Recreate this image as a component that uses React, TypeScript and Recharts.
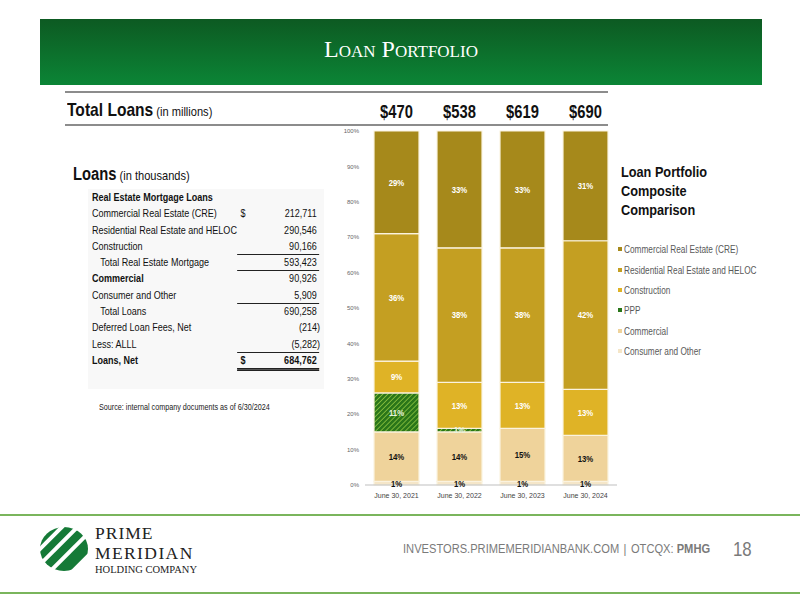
import React from 'react';
import { BarChart, Bar, XAxis, YAxis, LabelList } from 'recharts';

const years = ['June 30, 2021', 'June 30, 2022', 'June 30, 2023', 'June 30, 2024'];
const totals = ['$470', '$538', '$619', '$690'];

// composition, % of total loans (bottom of stack first)
const consumer = [1, 1, 1, 1];
const commercial = [14, 14, 15, 13];
const ppp = [11, 1, 0, 0];
const construction = [9, 13, 13, 13];
const residential = [36, 38, 38, 42];
const cre = [29, 33, 33, 31];

const yTicks = [0, 10, 20, 30, 40, 50, 60, 70, 80, 90, 100];

const series = [
  { key: 'consumer', name: 'Consumer and Other', color: '#f5e6c8', label: '#111' },
  { key: 'commercial', name: 'Commercial', color: '#efd39b', label: '#111' },
  { key: 'ppp', name: 'PPP', color: 'url(#pppHatch)', label: '#e8f3df' },
  { key: 'construction', name: 'Construction', color: '#dfb326', label: '#fff' },
  { key: 'residential', name: 'Residential Real Estate and HELOC', color: '#c49f22', label: '#fff' },
  { key: 'cre', name: 'Commercial Real Estate (CRE)', color: '#a6891b', label: '#fff' },
];

const tableRows = [
  { label: 'Real Estate Mortgage Loans', value: '', bold: true },
  { label: 'Commercial Real Estate (CRE)', value: '212,711', dollar: true },
  { label: 'Residential Real Estate and HELOC', value: '290,546' },
  { label: 'Construction', value: '90,166', rule: 'single' },
  { label: 'Total Real Estate Mortgage', value: '593,423', indent: true, rule: 'single' },
  { label: 'Commercial', value: '90,926', bold: true },
  { label: 'Consumer and Other', value: '5,909', rule: 'single' },
  { label: 'Total Loans', value: '690,258', indent: true },
  { label: 'Deferred Loan Fees, Net', value: '(214)' },
  { label: 'Less: ALLL', value: '(5,282)', rule: 'single' },
  { label: 'Loans, Net', value: '684,762', bold: true, dollar: true, rule: 'double', valueBold: true },
];

const data = years.map((year, i) => ({
  year,
  total: totals[i],
  consumer: consumer[i],
  commercial: commercial[i],
  ppp: ppp[i],
  construction: construction[i],
  residential: residential[i],
  cre: cre[i],
}));

const sans = "Arial, 'Liberation Sans', sans-serif";
const serif = "'Liberation Serif', 'Times New Roman', serif";
const NARROW = 0.82; // no Arial Narrow installed, squeeze Arial instead

const makeLabel = (color: string) => (props: any) => {
  const { x, y, width, height, value } = props;
  if (value === undefined || value === null) return null;
  const fill = value === 0 ? '#111' : color;
  const cx = Number(x) + Number(width) / 2;
  const cy = Number(y) + Number(height) / 2;
  return (
    <text
      transform={`translate(${cx},${cy}) scale(${NARROW},1)`}
      dy="0.35em"
      textAnchor="middle"
      fill={fill}
      fontSize={9.5}
      fontWeight="bold"
      fontFamily={sans}
    >
      {`${value}%`}
    </text>
  );
};

const TotalTick = (props: any) => {
  const { x, y, payload } = props;
  return (
    <text
      transform={`translate(${x},${y}) scale(${NARROW},1)`}
      textAnchor="middle"
      fontSize={18}
      fontWeight="bold"
      fill="#111"
      fontFamily={sans}
    >
      {payload.value}
    </text>
  );
};

const Logo = () => (
  <svg width={52} height={48} viewBox="0 0 52 48" style={{ position: 'absolute', left: 38, top: 525 }}>
    <defs>
      <clipPath id="logoClip">
        <ellipse cx={26} cy={24} rx={24} ry={22} />
      </clipPath>
    </defs>
    <g clipPath="url(#logoClip)">
      <g transform="rotate(-45 26 24)">
        <rect x={-10} y={-2} width={72} height={7} fill="#157a37" />
        <rect x={-10} y={9} width={72} height={7} fill="#157a37" />
        <rect x={-10} y={20} width={72} height={8} fill="#157a37" />
        <rect x={-10} y={32} width={72} height={12} fill="#157a37" />
      </g>
    </g>
  </svg>
);

const squeeze = (origin = 'left', k = NARROW): React.CSSProperties => ({
  transform: `scaleX(${k})`,
  transformOrigin: origin,
});

export default function App() {
  return (
    <div
      style={{
        position: 'absolute',
        left: 0,
        top: 0,
        width: 800,
        height: 600,
        background: '#fff',
        overflow: 'hidden',
        fontFamily: sans,
      }}
    >
      <svg width={0} height={0} style={{ position: 'absolute' }}>
        <defs>
          <pattern id="pppHatch" patternUnits="userSpaceOnUse" width={3.5} height={3.5} patternTransform="rotate(45)">
            <rect width={3.5} height={3.5} fill="#2a7619" />
            <line x1={0} y1={0} x2={0} y2={3.5} stroke="#9ccf45" strokeWidth={1.4} />
          </pattern>
        </defs>
      </svg>

      {/* header band */}
      <div
        style={{
          position: 'absolute',
          left: 40,
          top: 19,
          width: 722,
          height: 66,
          background: 'linear-gradient(#0d5a22, #0b8536)',
        }}
      />
      <div
        style={{
          position: 'absolute',
          left: 40,
          top: 36,
          width: 722,
          textAlign: 'center',
          color: '#fff',
          fontFamily: serif,
          fontSize: 24,
          fontVariant: 'small-caps',
        }}
      >
        Loan Portfolio
      </div>

      {/* total loans strip */}
      <div style={{ position: 'absolute', left: 65, top: 91, width: 543, height: 2, background: '#8c8c8c' }} />
      <div style={{ position: 'absolute', left: 65, top: 124, width: 543, height: 2, background: '#8c8c8c' }} />
      <div style={{ position: 'absolute', left: 67, top: 99, color: '#111', whiteSpace: 'nowrap', ...squeeze() }}>
        <span style={{ fontSize: 19, fontWeight: 'bold' }}>Total Loans</span>
        <span style={{ fontSize: 13.5 }}> (in millions)</span>
      </div>

      {/* loans table */}
      <div style={{ position: 'absolute', left: 73, top: 164, color: '#111', whiteSpace: 'nowrap', ...squeeze() }}>
        <span style={{ fontSize: 18, fontWeight: 'bold' }}>Loans</span>
        <span style={{ fontSize: 13.5 }}> (in thousands)</span>
      </div>
      <div
        style={{
          position: 'absolute',
          left: 88,
          top: 189,
          width: 236,
          height: 200,
          background: '#f8f8f8',
        }}
      />
      <div style={{ position: 'absolute', left: 92, top: 190, width: 228 / NARROW, ...squeeze() }}>
        {tableRows.map((r, i) => (
          <div key={i} style={{ position: 'relative', height: 16.3, fontSize: 11, color: '#111', whiteSpace: 'nowrap' }}>
            <span
              style={{
                position: 'absolute',
                left: r.indent ? 10 : 0,
                top: 1,
                fontWeight: r.bold ? 'bold' : 'normal',
              }}
            >
              {r.label}
            </span>
            {r.dollar && (
              <span style={{ position: 'absolute', left: 181, top: 1, fontWeight: r.valueBold ? 'bold' : 'normal' }}>$</span>
            )}
            <span
              style={{
                position: 'absolute',
                right: r.value.startsWith('(') ? 0 : 4,
                top: 1,
                fontWeight: r.valueBold ? 'bold' : 'normal',
              }}
            >
              {r.value}
            </span>
            {r.rule === 'single' && (
              <div style={{ position: 'absolute', left: 177, right: 1, top: 15, height: 1, background: '#222' }} />
            )}
            {r.rule === 'double' && (
              <div
                style={{
                  position: 'absolute',
                  left: 177,
                  right: 1,
                  top: 15,
                  height: 1,
                  borderTop: '1px solid #222',
                  borderBottom: '1px solid #222',
                  background: '#555',
                }}
              />
            )}
          </div>
        ))}
      </div>
      <div style={{ position: 'absolute', left: 99, top: 402, fontSize: 8.8, color: '#222', whiteSpace: 'nowrap', ...squeeze() }}>
        Source: internal company documents as of 6/30/2024
      </div>

      {/* chart */}
      <div style={{ position: 'absolute', left: 330, top: 90 }}>
        <BarChart
          width={290}
          height={420}
          data={data}
          margin={{ top: 5, right: 3, bottom: 5, left: 0 }}
          barSize={45}
        >
          <XAxis
            xAxisId="top"
            orientation="top"
            dataKey="total"
            height={36}
            tickLine={false}
            axisLine={false}
            tickMargin={7}
            tick={<TotalTick />}
          />
          <XAxis
            xAxisId="bottom"
            dataKey="year"
            height={20}
            tickLine={false}
            axisLine={{ stroke: '#bfbfbf' }}
            tick={{ fontSize: 7, fill: '#444', fontFamily: sans }}
          />
          <YAxis
            width={35}
            domain={[0, 100]}
            ticks={yTicks}
            tickLine={false}
            axisLine={false}
            tickMargin={0}
            tickFormatter={(v) => `${v}%`}
            tick={{ fontSize: 6, fill: '#666', fontFamily: sans }}
          />
          {series.map((s) => (
            <Bar
              key={s.key}
              xAxisId="bottom"
              dataKey={s.key}
              name={s.name}
              stackId="a"
              fill={s.color}
              stroke="#fbf3df"
              strokeWidth={1.2}
              isAnimationActive={false}
            >
              <LabelList dataKey={s.key} content={makeLabel(s.label)} />
            </Bar>
          ))}
        </BarChart>
      </div>

      {/* legend */}
      <div
        style={{
          position: 'absolute',
          left: 621,
          top: 162,
          fontSize: 15.5,
          fontWeight: 'bold',
          color: '#111',
          lineHeight: '19px',
          whiteSpace: 'nowrap',
          ...squeeze(),
        }}
      >
        Loan Portfolio
        <br />
        Composite
        <br />
        Comparison
      </div>
      <div style={{ position: 'absolute', left: 618, top: 239 }}>
        {[...series].reverse().map((s) => (
          <div key={s.key} style={{ height: 20.4, display: 'flex', alignItems: 'center', whiteSpace: 'nowrap' }}>
            <div
              style={{
                width: 4,
                height: 4,
                marginRight: 2,
                background: s.key === 'ppp' ? '#2a7619' : s.color,
              }}
            />
            <span style={{ fontSize: 11, color: '#595959', display: 'inline-block', ...squeeze('left', 0.75) }}>
              {s.name}
            </span>
          </div>
        ))}
      </div>

      {/* footer */}
      <div style={{ position: 'absolute', left: 0, top: 514, width: 800, height: 2, background: '#7ab55c' }} />
      <div style={{ position: 'absolute', left: 0, top: 592, width: 800, height: 2, background: '#7ab55c' }} />
      <Logo />
      <div style={{ position: 'absolute', left: 95, top: 525, fontFamily: serif, color: '#222', whiteSpace: 'nowrap', lineHeight: 1 }}>
        <div style={{ fontSize: 17.5, letterSpacing: 1 }}>PRIME</div>
      </div>
      <div style={{ position: 'absolute', left: 95, top: 545, fontFamily: serif, color: '#222', whiteSpace: 'nowrap', lineHeight: 1 }}>
        <div style={{ fontSize: 17.5, letterSpacing: 1.4 }}>MERIDIAN</div>
      </div>
      <div style={{ position: 'absolute', left: 95, top: 565, fontFamily: serif, color: '#222', whiteSpace: 'nowrap', lineHeight: 1 }}>
        <div style={{ fontSize: 10.5 }}>HOLDING COMPANY</div>
      </div>
      <div
        style={{
          position: 'absolute',
          left: 403,
          top: 542,
          fontSize: 12.5,
          color: '#7a7a7a',
          whiteSpace: 'nowrap',
          transform: 'scaleX(0.89)',
          transformOrigin: 'left',
        }}
      >
        INVESTORS.PRIMEMERIDIANBANK.COM<span style={{ margin: '0 5px' }}>|</span>OTCQX:{' '}
        <span style={{ fontWeight: 'bold' }}>PMHG</span>
      </div>
      <div
        style={{
          position: 'absolute',
          left: 733,
          top: 537,
          fontSize: 21,
          color: '#7a7a7a',
          transform: 'scaleX(0.8)',
          transformOrigin: 'left',
        }}
      >
        18
      </div>
    </div>
  );
}
